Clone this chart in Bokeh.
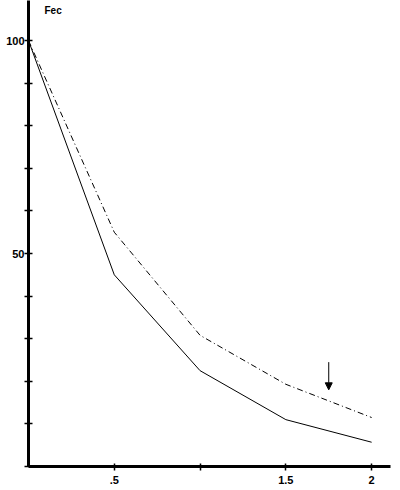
from bokeh.plotting import figure
from bokeh.models import Range1d, FixedTicker, Label, Arrow, NormalHead
from bokeh.embed import file_html
from bokeh.resources import INLINE

# data
F = [0, 0.5, 1, 1.5, 2]
fec_solid = [100, 45, 22.5, 11, 5.7]
fec_dashed = [100, 55, 30.8, 19.3, 11.5]

x_ticks = [0.5, 1, 1.5, 2]
x_tick_labels = [".5", "", "1.5", "2"]
y_ticks = [0, 10, 20, 30, 40, 50, 60, 70, 80, 90, 100]
y_tick_labels = ["", "", "", "", "", "50", "", "", "", "", "100"]

arrow_x = 1.75
arrow_top = 24.5
arrow_bottom = 18.0

FONT = "Liberation Sans"
X_END = 2.11
Y_END = 109.4

p = figure(width=400, height=490, output_backend="svg", toolbar_location=None,
           x_range=Range1d(0, X_END), y_range=Range1d(0, Y_END),
           min_border_left=28, min_border_right=10, min_border_top=0, min_border_bottom=24)
p.outline_line_color = None
p.grid.visible = False
p.background_fill_color = "white"
p.border_fill_color = "white"

p.line(F, fec_solid, line_color="black", line_width=1)
p.line(F, fec_dashed, line_color="black", line_width=1, line_dash="6 3 1 3")

p.add_layout(Arrow(end=NormalHead(size=7, fill_color="black", line_color="black"),
                   x_start=arrow_x, y_start=arrow_top, x_end=arrow_x, y_end=arrow_bottom,
                   line_color="black", line_width=1))

for ax in (p.xaxis[0], p.yaxis[0]):
    ax.axis_line_color = "black"
    ax.axis_line_width = 3
    ax.major_tick_line_color = "black"
    ax.major_tick_line_width = 1.5
    ax.minor_tick_line_color = None
    ax.major_label_text_font = FONT
    ax.major_label_text_font_style = "bold"
    ax.major_label_text_font_size = "11px"
    ax.major_label_text_color = "black"

p.xaxis.ticker = FixedTicker(ticks=x_ticks)
p.xaxis.major_label_overrides = {t: l for t, l in zip(x_ticks, x_tick_labels)}
p.xaxis.major_tick_in = 3
p.xaxis.major_tick_out = 4
p.xaxis.major_label_standoff = 5

p.yaxis.ticker = FixedTicker(ticks=y_ticks)
p.yaxis.major_label_overrides = {t: l for t, l in zip(y_ticks, y_tick_labels)}
p.yaxis.major_tick_in = 4
p.yaxis.major_tick_out = 4
p.yaxis.major_label_standoff = 0
p.yaxis.major_label_text_baseline = "alphabetic"

p.add_layout(Label(x=0.093, y=Y_END, y_offset=-4, text="Fec", text_font=FONT,
                   text_font_style="bold", text_font_size="10px", text_baseline="top",
                   text_color="black"))
p.add_layout(Label(x=X_END, y=0, y_offset=-11, x_offset=2, text="F", text_font=FONT,
                   text_font_size="11px", text_baseline="top", text_color="black"))

open("out.html", "w").write(file_html(p, INLINE))
